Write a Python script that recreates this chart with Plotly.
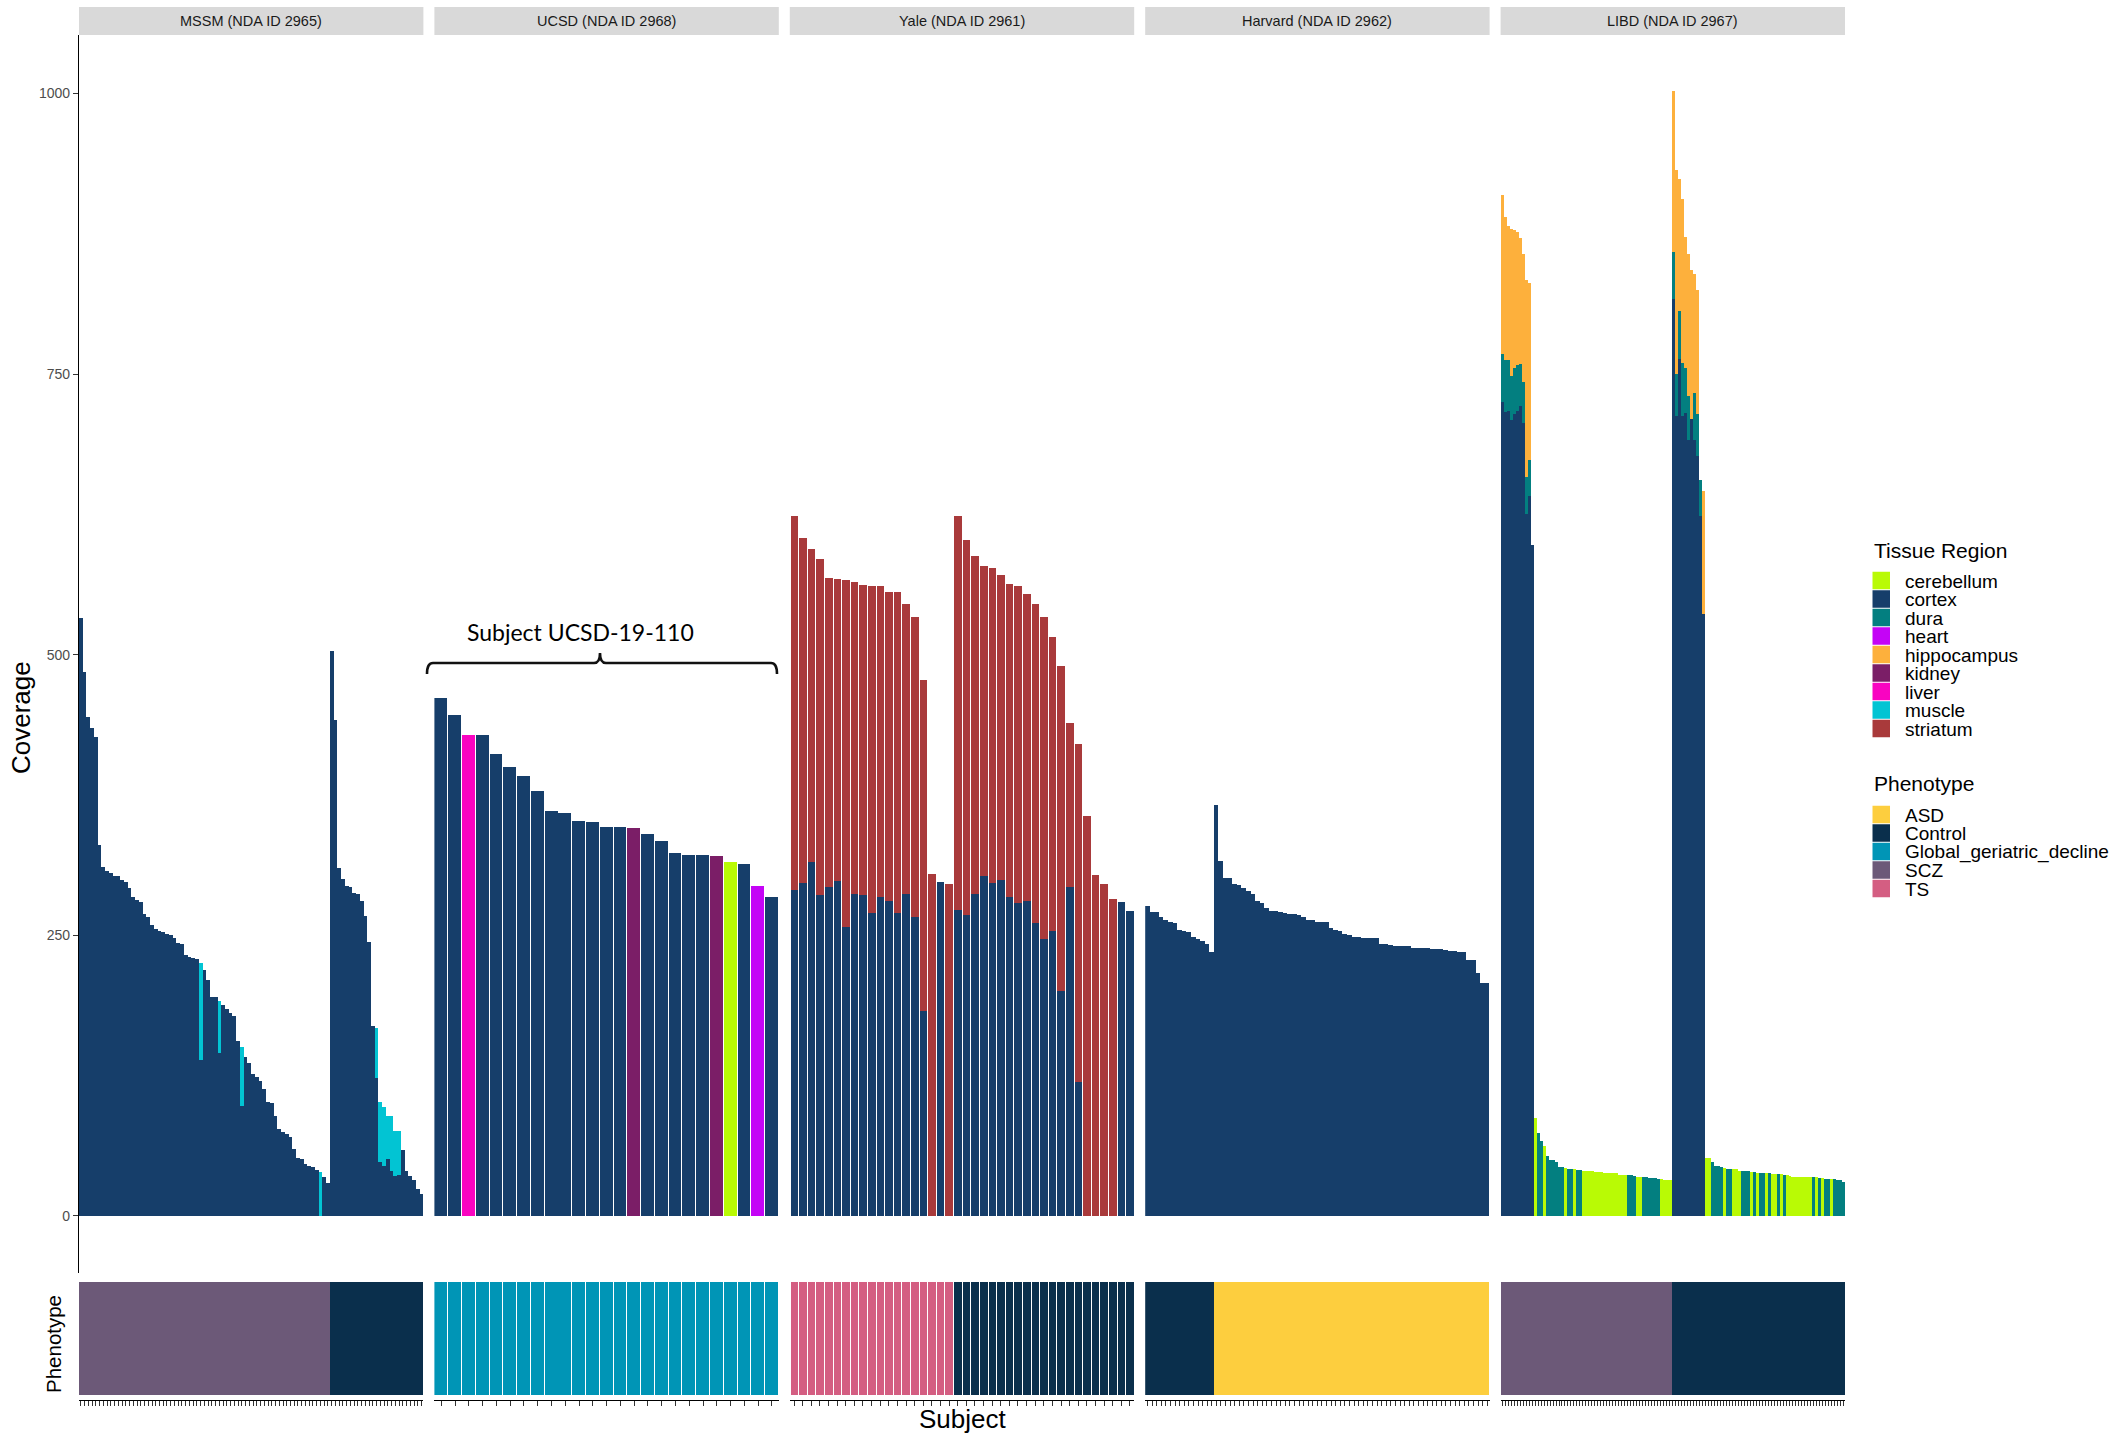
import plotly.graph_objects as go

# ---------------------------------------------------------------------------
# Canvas and fonts
# ---------------------------------------------------------------------------
W, H = 2124, 1440
FONT = "Liberation Sans, Arial, Helvetica, sans-serif"

# ---------------------------------------------------------------------------
# Colour keys
# ---------------------------------------------------------------------------
tissue_order = ["cerebellum", "cortex", "dura", "heart", "hippocampus",
                "kidney", "liver", "muscle", "striatum"]
tissue_colors = {
    "cerebellum": "#B9FA05",
    "cortex": "#163E6A",
    "dura": "#037F80",
    "heart": "#C404F6",
    "hippocampus": "#FDB03C",
    "kidney": "#7B1E67",
    "liver": "#F904C1",
    "muscle": "#02C4D3",
    "striatum": "#A93A3B",
}
pheno_order = ["ASD", "Control", "Global_geriatric_decline", "SCZ", "TS"]
pheno_colors = {
    "ASD": "#FDCE3E",
    "Control": "#0A2F4C",
    "Global_geriatric_decline": "#0095B6",
    "SCZ": "#6C5978",
    "TS": "#D45E82",
}

site_labels = ["MSSM (NDA ID 2965)", "UCSD (NDA ID 2968)", "Yale (NDA ID 2961)",
               "Harvard (NDA ID 2962)", "LIBD (NDA ID 2967)"]
y_ticks = [0, 250, 500, 750, 1000]

# ---------------------------------------------------------------------------
# MSSM: cortex coverage per subject, muscle stacked on top where sequenced
# ---------------------------------------------------------------------------
mssm_cortex = [
    532.5, 484.6, 444.5, 434.8, 427.0, 330.7, 311.2, 307.5, 305.2, 303.3,
    302.6, 299.6, 297.4, 292.5, 284.2, 281.6, 279.4, 269.3, 266.6, 258.8,
    255.8, 254.3, 252.8, 250.9, 250.5, 247.5, 243.4, 242.7, 232.9, 230.3,
    230.0, 229.2, 139.0, 218.7, 210.5, 195.5, 195.5, 145.0, 188.4, 184.6,
    181.0, 178.6, 156.2, 97.7, 141.9, 135.9, 126.2, 124.0, 120.6, 112.7,
    101.1, 100.4, 88.8, 77.1, 74.9, 73.0, 70.0, 59.5, 52.1, 50.6,
    46.1, 44.9, 43.8, 41.2, 0.0, 34.5, 29.2,
    503.3, 441.9, 309.7, 300.3, 294.0, 293.2, 287.6, 286.9, 280.5, 267.4,
    244.2, 169.6, 123.2, 47.9, 44.2, 50.6, 40.1, 35.6, 36.7, 59.2,
    39.7, 35.2, 31.8, 23.6, 19.8,
]
mssm_muscle = (
    [0.0] * 32 + [86.0] + [0.0] * 4 + [46.8] + [0.0] * 5 + [52.4] + [0.0] * 20
    + [38.9] + [0.0] * 2
    + [0.0] * 12 + [44.6, 53.2, 53.2, 38.9, 49.4, 40.0, 38.6] + [0.0] * 6
)
mssm_pheno = ["SCZ"] * 67 + ["Control"] * 25

# ---------------------------------------------------------------------------
# UCSD: one donor, many tissues
# ---------------------------------------------------------------------------
ucsd_coverage = [
    461.4, 446.4, 428.4, 428.4, 411.6, 399.9, 392.1, 378.5, 360.9, 359.0,
    351.9, 351.2, 346.7, 346.7, 345.5, 340.3, 333.9, 323.5, 321.6, 321.6,
    320.8, 315.6, 313.7, 294.2, 284.1,
]
ucsd_tissue = [
    "cortex", "cortex", "liver", "cortex", "cortex", "cortex", "cortex",
    "cortex", "cortex", "cortex", "cortex", "cortex", "cortex", "cortex",
    "kidney", "cortex", "cortex", "cortex", "cortex", "cortex", "kidney",
    "cerebellum", "cortex", "heart", "cortex",
]
ucsd_pheno = ["Global_geriatric_decline"] * 25

# ---------------------------------------------------------------------------
# Yale: cortex with striatum stacked on top
# ---------------------------------------------------------------------------
yale_cortex = [
    290.3, 296.8, 315.4, 286.1, 292.9, 298.5, 257.5, 286.9, 286.1, 270.0,
    284.3, 280.4, 270.0, 286.9, 266.2, 182.4, 0.0, 297.7, 0.0,
    272.6, 268.3, 286.9, 302.9, 296.8, 299.4, 284.3, 278.7, 280.4, 261.0,
    246.8, 254.1, 200.5, 292.9, 119.4, 0.0, 0.0, 0.0, 0.0, 279.6, 271.8,
]
yale_striatum = [
    333.4, 307.1, 279.0, 299.2, 275.6, 269.1, 309.2, 278.1, 275.9, 291.1,
    276.8, 275.5, 285.9, 258.2, 267.3, 294.9, 304.6, 0.0, 295.5,
    351.1, 333.8, 301.0, 276.3, 280.3, 271.6, 278.5, 282.4, 273.8, 284.1,
    286.7, 261.7, 289.4, 146.4, 300.9, 356.4, 303.8, 295.5, 282.6, 0.0, 0.0,
]
yale_pheno = ["TS"] * 19 + ["Control"] * 21

# ---------------------------------------------------------------------------
# Harvard: cortex only
# ---------------------------------------------------------------------------
harvard_cortex = [
    276.3, 270.9, 270.9, 266.4, 264.1, 261.8, 260.9, 255.0, 254.1, 252.7,
    248.2, 246.8, 245.0, 242.7, 235.4,
    366.3, 316.3, 301.3, 301.3, 295.8, 294.5, 292.2, 289.5, 286.8, 280.4,
    279.0, 274.5, 271.8, 271.8, 270.9, 269.5, 268.6, 268.6, 267.7, 266.4,
    263.6, 263.6, 261.8, 261.8, 261.8, 256.3, 255.0, 253.6, 251.3, 250.4,
    248.6, 248.6, 247.7, 247.7, 247.7, 247.7, 242.2, 242.2, 241.3, 240.4,
    240.4, 240.4, 240.4, 238.6, 238.6, 238.6, 238.6, 237.7, 237.7, 237.7,
    236.8, 235.9, 235.9, 235.0, 235.0, 228.2, 228.2, 216.3, 207.7, 207.7,
]
harvard_pheno = ["Control"] * 15 + ["ASD"] * 60

# ---------------------------------------------------------------------------
# LIBD: multi-region donors (cortex / dura / hippocampus) followed by
# single-region cerebellum (C) or dura (D) samples, per phenotype group
# ---------------------------------------------------------------------------
libd_scz_multi_cortex = [725.1, 716.5, 717.5, 709.4, 714.5, 717.2, 721.6, 706.3, 625.5, 641.5, 597.9]
libd_scz_multi_dura = [42.9, 46.1, 45.1, 38.8, 40.9, 40.9, 37.5, 36.8, 32.8, 32.1, 0.0]
libd_scz_multi_hippocampus = [141.5, 127.5, 119.3, 130.9, 123.0, 118.7, 112.2, 113.9, 175.6, 157.5, 0.0]
libd_scz_single = [
    87.7, 73.5, 67.0, 62.6, 53.5, 49.9, 49.9, 48.1, 43.7, 43.7,
    42.8, 41.9, 41.9, 41.9, 41.0, 41.0, 40.1, 40.1, 40.1, 40.1,
    39.4, 39.4, 39.4, 38.6, 38.6, 38.6, 38.3, 38.3, 36.8, 36.8,
    36.8, 36.5, 36.5, 35.6, 34.7, 34.7, 34.7, 34.7, 33.9, 33.9,
    33.9, 33.0, 33.0, 32.1, 32.1, 32.1,
]
libd_scz_single_region = "CDDCDDDDDDCDDCDDCCCCCCCCCCCCCCCDDDCCDDDDDDCCCC"

libd_ctrl_multi_cortex = [816.7, 712.8, 763.6, 712.8, 715.2, 691.7, 710.0, 691.7, 677.0, 623.4, 536.1]
libd_ctrl_multi_dura = [42.0, 37.1, 42.6, 47.0, 40.2, 38.8, 0.0, 41.5, 37.5, 32.1, 0.0]
libd_ctrl_multi_hippocampus = [143.5, 182.1, 117.6, 146.3, 116.6, 126.5, 133.0, 106.1, 110.5, 0.0, 109.9]
libd_ctrl_single = [
    51.7, 51.7, 48.1, 44.5, 44.5, 43.6, 42.8, 41.9, 41.9, 41.9,
    41.9, 40.1, 40.1, 40.1, 40.1, 39.2, 39.2, 38.3, 38.3, 38.3,
    38.3, 38.3, 37.4, 37.4, 37.4, 37.4, 36.5, 36.5, 35.9, 34.7,
    34.7, 34.7, 34.7, 34.7, 34.7, 34.7, 34.7, 34.4, 33.9, 33.9,
    33.0, 33.0, 33.0, 33.0, 32.1, 32.1, 30.3,
]
libd_ctrl_single_region = "CCDDDDCDDCCCDDDCDCDDCDCCDCDCCCCCCCCCDCDCDDCDDDD"

libd_pheno = ["SCZ"] * 57 + ["Control"] * 58

# ---------------------------------------------------------------------------
# Assemble per-site stacks (tissue -> value per bar)
# ---------------------------------------------------------------------------
region_code = {"C": "cerebellum", "D": "dura"}


def libd_stacks():
    stacks = {t: [] for t in ("cortex", "dura", "hippocampus", "cerebellum")}
    groups = [
        (libd_scz_multi_cortex, libd_scz_multi_dura, libd_scz_multi_hippocampus,
         libd_scz_single, libd_scz_single_region),
        (libd_ctrl_multi_cortex, libd_ctrl_multi_dura, libd_ctrl_multi_hippocampus,
         libd_ctrl_single, libd_ctrl_single_region),
    ]
    for cx, du, hp, single, codes in groups:
        stacks["cortex"] += cx
        stacks["dura"] += du
        stacks["hippocampus"] += hp
        stacks["cerebellum"] += [0.0] * len(cx)
        for v, c in zip(single, codes):
            for t in stacks:
                stacks[t].append(v if region_code[c] == t else 0.0)
    return stacks


def single_tissue_stacks(values, tissues):
    stacks = {}
    for i, (v, t) in enumerate(zip(values, tissues)):
        stacks.setdefault(t, [0.0] * len(values))[i] = v
    return stacks


sites = [
    dict(prefix="MSSM", stacks={"cortex": mssm_cortex, "muscle": mssm_muscle},
         pheno=mssm_pheno, width=1.0),
    dict(prefix="UCSD", stacks=single_tissue_stacks(ucsd_coverage, ucsd_tissue),
         pheno=ucsd_pheno, width=0.93),
    dict(prefix="Yale", stacks={"cortex": yale_cortex, "striatum": yale_striatum},
         pheno=yale_pheno, width=0.885),
    dict(prefix="Harvard", stacks={"cortex": harvard_cortex},
         pheno=harvard_pheno, width=1.0),
    dict(prefix="LIBD", stacks=libd_stacks(), pheno=libd_pheno, width=1.0),
]
for s in sites:
    s["ids"] = [f"{s['prefix']}-{i + 1:03d}" for i in range(len(s["pheno"]))]

# ---------------------------------------------------------------------------
# Geometry (pixels) of the facet grid
# ---------------------------------------------------------------------------
PANEL_X0, PANEL_X1, GAP = 79.0, 1845.0, 11.0
PANEL_W = (PANEL_X1 - PANEL_X0 - 4 * GAP) / 5
BAR_TOP, BAR_BOTTOM = 35.0, 1273.0
STRIP_TOP = 7.0
PHENO_TOP, PHENO_AXIS = 1282.0, 1400.0


def px(x):
    return x / W


def py(y):
    return 1 - y / H


def xname(i):
    return "x" if i == 1 else f"x{i}"


def xlayout(i):
    return "xaxis" if i == 1 else f"xaxis{i}"


fig = go.Figure()

# Coverage bars, stacked by tissue region
for t in tissue_order:
    for k, s in enumerate(sites):
        vals = s["stacks"].get(t)
        if not vals or not any(v > 0 for v in vals):
            continue
        fig.add_trace(go.Bar(
            x=s["ids"], y=[v if v > 0 else None for v in vals],
            xaxis=xname(k + 1), yaxis="y", width=s["width"],
            marker=dict(color=tissue_colors[t], line=dict(width=0)),
            name=t, showlegend=False,
        ))

# Phenotype tiles underneath each facet
for k, s in enumerate(sites):
    fig.add_trace(go.Bar(
        x=s["ids"], y=[1] * len(s["ids"]),
        xaxis=xname(k + 6), yaxis="y2", width=s["width"],
        marker=dict(color=[pheno_colors[p] for p in s["pheno"]], line=dict(width=0)),
        showlegend=False,
    ))

layout = dict(
    width=W, height=H,
    margin=dict(l=0, r=0, t=0, b=0),
    paper_bgcolor="white", plot_bgcolor="white",
    barmode="stack", bargap=0, bargroupgap=0,
    font=dict(family=FONT, color="black"),
    showlegend=False,
)

shapes = []
annotations = []
for k, s in enumerate(sites):
    n = len(s["ids"])
    x0 = PANEL_X0 + k * (PANEL_W + GAP)
    x1 = x0 + PANEL_W
    common = dict(domain=[px(x0), px(x1)], type="category",
                  categoryorder="array", categoryarray=s["ids"],
                  range=[-0.5, n - 0.5], showgrid=False, zeroline=False,
                  showticklabels=False, fixedrange=True)
    layout[xlayout(k + 1)] = dict(common, anchor="y", showline=False, ticks="")
    layout[xlayout(k + 6)] = dict(
        common, anchor="y2", showline=True, linecolor="black", linewidth=1.1,
        ticks="outside", ticklen=5, tickwidth=0.8, tickcolor="#333333",
        tickmode="array", tickvals=s["ids"],
    )
    # facet strip
    shapes.append(dict(type="rect", xref="paper", yref="paper",
                       x0=px(x0), x1=px(x1), y0=py(BAR_TOP), y1=py(STRIP_TOP),
                       fillcolor="#D9D9D9", line=dict(width=0), layer="below"))
    annotations.append(dict(text=site_labels[k], xref="paper", yref="paper",
                            x=px((x0 + x1) / 2), y=py((STRIP_TOP + BAR_TOP) / 2),
                            xanchor="center", yanchor="middle", showarrow=False,
                            font=dict(size=14.5, color="#1A1A1A", family=FONT)))

layout["yaxis"] = dict(
    domain=[py(BAR_BOTTOM), py(BAR_TOP)], anchor="x", range=[-50.8, 1052.1],
    tickmode="array", tickvals=y_ticks, ticks="outside", ticklen=5,
    tickwidth=1.1, tickcolor="#333333", showline=True, linecolor="black",
    linewidth=1.3, showgrid=False, zeroline=False, fixedrange=True,
    tickfont=dict(size=14, color="#4D4D4D", family=FONT),
)
layout["yaxis2"] = dict(
    domain=[py(PHENO_AXIS), py(PHENO_TOP)], anchor="x6", range=[-0.044, 1.0],
    visible=False, fixedrange=True,
)

# Axis titles
annotations += [
    dict(text="Coverage", xref="paper", yref="paper", x=px(21), y=py(718),
         textangle=-90, showarrow=False, xanchor="center", yanchor="middle",
         font=dict(size=26, family=FONT, color="black")),
    dict(text="Phenotype", xref="paper", yref="paper", x=px(53), y=py(1344),
         textangle=-90, showarrow=False, xanchor="center", yanchor="middle",
         font=dict(size=20.5, family=FONT, color="black")),
    dict(text="Subject", xref="paper", yref="paper", x=px(962), y=py(1419),
         showarrow=False, xanchor="center", yanchor="middle",
         font=dict(size=26, family=FONT, color="black")),
]

# Brace over the UCSD facet naming the single donor
bl, br, bm = 427.0, 777.0, 600.0
y_line, y_end, y_tip, r = 663.0, 674.0, 653.0, 6.0
brace = (
    f"M {px(bl)},{py(y_end)} Q {px(bl)},{py(y_line)} {px(bl + r)},{py(y_line)} "
    f"L {px(bm - r)},{py(y_line)} Q {px(bm)},{py(y_line)} {px(bm)},{py(y_tip)} "
    f"Q {px(bm)},{py(y_line)} {px(bm + r)},{py(y_line)} "
    f"L {px(br - r)},{py(y_line)} Q {px(br)},{py(y_line)} {px(br)},{py(y_end)}"
)
shapes.append(dict(type="path", xref="paper", yref="paper", path=brace,
                   line=dict(color="#111111", width=2.6)))
annotations.append(dict(text="Subject UCSD-19-110", xref="paper", yref="paper",
                        x=px(580), y=py(632), showarrow=False,
                        xanchor="center", yanchor="middle",
                        font=dict(size=23, family="Lato, Carlito, Open Sans, sans-serif",
                                  color="black")))

# Legends: Tissue Region and Phenotype keys
KEY_X0, KEY_SIZE, LABEL_X, STEP = 1872.5, 17.5, 1903.0, 18.5


def legend_block(title, names, colors, title_y, first_y):
    annotations.append(dict(text=title, xref="paper", yref="paper",
                            x=px(KEY_X0 - 1), y=py(title_y), showarrow=False,
                            xanchor="left", yanchor="middle",
                            font=dict(size=21, family=FONT, color="black")))
    for i, name in enumerate(names):
        cy = first_y + i * STEP
        shapes.append(dict(type="rect", xref="paper", yref="paper",
                           x0=px(KEY_X0), x1=px(KEY_X0 + KEY_SIZE),
                           y0=py(cy + KEY_SIZE / 2), y1=py(cy - KEY_SIZE / 2),
                           fillcolor=colors[name], line=dict(width=0)))
        annotations.append(dict(text=name, xref="paper", yref="paper",
                                x=px(LABEL_X), y=py(cy + 0.5), showarrow=False,
                                xanchor="left", yanchor="middle",
                                font=dict(size=19, family=FONT, color="black")))


legend_block("Tissue Region", tissue_order, tissue_colors, 550.0, 580.5)
legend_block("Phenotype", pheno_order, pheno_colors, 784.0, 814.5)

layout["shapes"] = shapes
layout["annotations"] = annotations
fig.update_layout(**layout)

fig.write_html("out.html")
